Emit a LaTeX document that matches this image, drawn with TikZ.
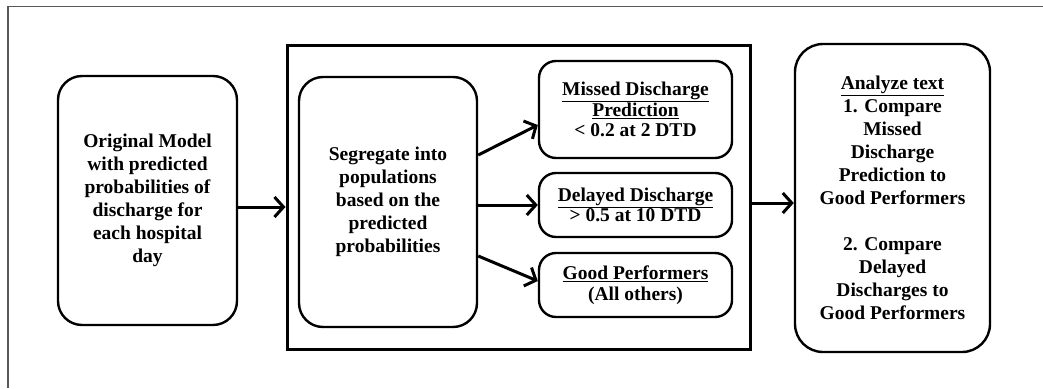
\documentclass[tikz,border=0pt]{standalone}
\usepackage{fontspec}
\setmainfont{Liberation Serif}
\usetikzlibrary{arrows.meta,calc}
\tikzset{
  box/.style={draw, line width=2.4pt, rounded corners=24pt, align=center, inner sep=2pt,
     font=\bfseries\fontsize{19.5}{23}\selectfont},
  sbox/.style={draw, line width=2.4pt, rounded corners=17pt, align=center, inner sep=2pt,
     font=\bfseries\fontsize{19.5}{20.5}\selectfont, minimum width=193pt},
  arr/.style={line width=3pt, -{Straight Barb[length=9pt,width=20pt,line width=3pt]}},
}
\begin{document}
\begin{tikzpicture}[x=1pt,y=-1pt]
\useasboundingbox (0,0) rectangle (1043,388);
\draw[gray!70!black, line width=1.2pt] (8,388) -- (8,6.5) -- (1043,6.5);
\node[box, minimum width=179pt, minimum height=249pt] (A) at (147.5,200.5)
  {Original Model\\with predicted\\probabilities of\\discharge for\\each hospital\\day};
\node[draw, line width=3pt, minimum width=463pt, minimum height=304pt] (F) at (518.5,197.5) {};
\node[box, minimum width=178pt, minimum height=250pt] (B) at (388,202)
  {Segregate into\\populations\\based on the\\predicted\\probabilities};
\node[sbox, minimum height=97pt] (M) at (635.5,109.5)
  {\underline{Missed Discharge}\\\underline{Prediction}\\{<} 0.2 at 2 DTD};
\node[sbox, minimum height=64pt] (D) at (635.5,205)
  {\underline{Delayed Discharge}\\{>} 0.5 at 10 DTD};
\node[sbox, minimum height=64pt] (G) at (635.5,285)
  {\underline{Good Performers}\\(All others)};
\node[box, rounded corners=28pt, minimum width=195pt, minimum height=308pt] (E) at (892.5,198)
  {\underline{Analyze text}\\1. Compare\\Missed\\Discharge\\Prediction to\\Good Performers\\[23pt]2. Compare\\Delayed\\Discharges to\\Good Performers};
\draw[arr] ($(A.east)+(0,6.5)$) -- ($(F.west)+(0,9.5)$);
\draw[arr] ($(F.east)+(0,5.5)$) -- ($(E.west)+(0,5)$);
\draw[arr] ($(B.east)+(0,-47)$) -- ($(M.west)+(0,15.5)$);
\draw[arr] ($(B.east)+(0,3)$) -- ($(D.west)+(0,0)$);
\draw[arr] ($(B.east)+(0,54)$) -- ($(G.west)+(0,-4)$);
\end{tikzpicture}
\end{document}
